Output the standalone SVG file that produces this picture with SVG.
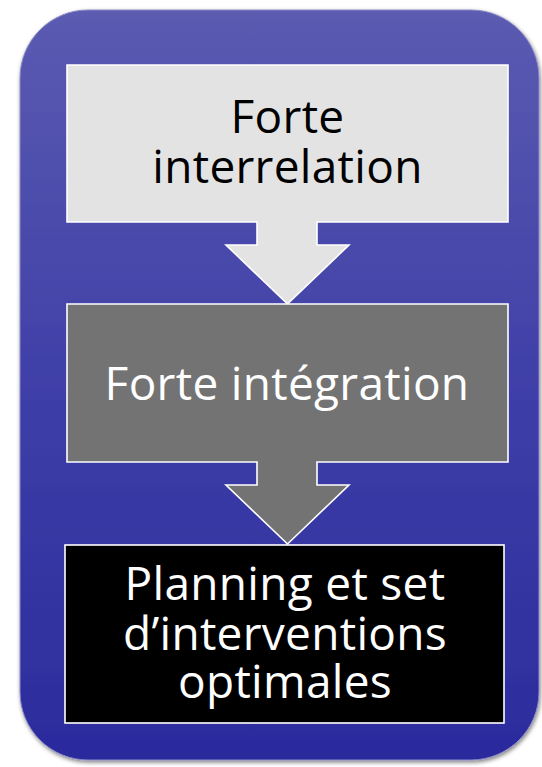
<svg xmlns="http://www.w3.org/2000/svg" width="542" height="767" viewBox="0 0 542 767">
<defs>
<linearGradient id="bg" x1="0" y1="0" x2="0" y2="1">
<stop offset="0" stop-color="#5b5bb1"/>
<stop offset="0.5" stop-color="#3f3fa8"/>
<stop offset="1" stop-color="#2b2b9d"/>
</linearGradient>
<filter id="sh" x="-5%" y="-5%" width="110%" height="110%">
<feGaussianBlur in="SourceAlpha" stdDeviation="2"/>
<feOffset dx="1" dy="2"/>
<feComponentTransfer><feFuncA type="linear" slope="0.5"/></feComponentTransfer>
<feMerge><feMergeNode/><feMergeNode in="SourceGraphic"/></feMerge>
</filter>
</defs>
<style>
.box{stroke:#ffffff;stroke-width:1.6}
.t{font-family:"Open Sans","DejaVu Sans",sans-serif;font-size:46px;text-anchor:middle;letter-spacing:0.3px}
</style>
<rect width="542" height="767" fill="#ffffff"/>
<g id="container">
<rect x="20" y="10" width="519" height="750" rx="68" ry="68" fill="url(#bg)" stroke="#8c8cc8" stroke-width="1" filter="url(#sh)"/>
</g>
<g id="connectors"></g>
<g id="node1">
<path class="box" fill="#e3e3e3" d="M67,65 H508 V222 H317 V245 H349 L287.5,304 L226,245 H257 V222 H67 Z"/>
<text class="t" x="287.5" y="133" fill="#000000">Forte</text>
<text class="t" x="287.5" y="183" fill="#000000">interrelation</text>
</g>
<g id="node2">
<path class="box" fill="#737373" d="M67,304 H508 V462 H317 V485 H349 L287.5,544 L226,485 H257 V462 H67 Z"/>
<text class="t" x="287" y="400" fill="#ffffff">Forte intégration</text>
</g>
<g id="node3">
<rect class="box" x="65" y="545" width="439" height="178" fill="#000000"/>
<text class="t" x="285" y="600" fill="#ffffff">Planning et set</text>
<text class="t" x="285" y="650" fill="#ffffff">d’interventions</text>
<text class="t" x="285" y="698" fill="#ffffff">optimales</text>
</g>
</svg>
